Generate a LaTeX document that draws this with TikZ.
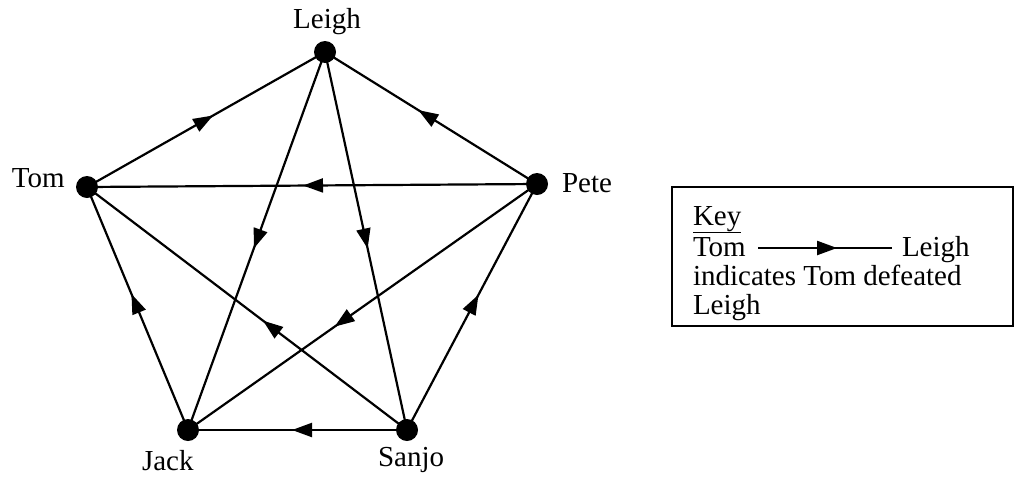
\documentclass[tikz,border=0pt]{standalone}
\usepackage{fontspec}
\setmainfont{Liberation Serif}
\usetikzlibrary{decorations.markings,arrows.meta}
\begin{document}
\begin{tikzpicture}[x=1pt,y=-1pt,
  every node/.style={font=\fontsize{29}{29}\selectfont, inner sep=0pt, outer sep=0pt},
  edge/.style={line width=2.2pt, postaction={decorate},
    decoration={markings, mark=at position #1 with {\arrow{Triangle[length=20pt,width=14pt]}}}},
  dot/.style={circle, fill=black, minimum size=22pt, inner sep=0pt}]
\useasboundingbox (0,0) rectangle (1016,477);
% vertex centres
\coordinate (L) at (325,52);
\coordinate (T) at (87,187);
\coordinate (P) at (537,184);
\coordinate (J) at (188,430);
\coordinate (S) at (407,430);
% edges (winner -> loser)
\draw[edge=0.53] (T) -- (L);
\draw[edge=0.56] (P) -- (L);
\draw[edge=0.52] (P) -- (T);
\draw[edge=0.52] (L) -- (J);
\draw[edge=0.52] (L) -- (S);
\draw[edge=0.56] (J) -- (T);
\draw[edge=0.45] (S) -- (T);
\draw[edge=0.58] (P) -- (J);
\draw[edge=0.525] (S) -- (J);
\draw[edge=0.55] (S) -- (P);
% dots
\node[dot] (dL) at (L) {};
\node[dot] (dT) at (T) {};
\node[dot] (dP) at (P) {};
\node[dot] (dJ) at (J) {};
\node[dot] (dS) at (S) {};
% labels
\node[anchor=base] (lL) at (327,28) {Leigh};
\node[anchor=base west] (lT) at (12,187) {Tom};
\node[anchor=base west] (lP) at (562,192) {Pete};
\node[anchor=base west] (lJ) at (142,470) {Jack};
\node[anchor=base west] (lS) at (378,466) {Sanjo};
% key
\node[draw, line width=1.5pt, minimum width=341pt, minimum height=139pt, anchor=north west] (box) at (672,187) {};
\node[anchor=base west] (k1) at (693,225) {\underline{Key}};
\node[anchor=base west] (k2) at (693,256) {Tom};
\node[anchor=base west] (k3) at (902,256) {Leigh};
\coordinate (ka) at (758,248);
\coordinate (kb) at (892,248);
\draw[edge=0.59] (ka) -- (kb);
\node[anchor=base west] (k4) at (693,285) {indicates Tom defeated};
\node[anchor=base west] (k5) at (693,314) {Leigh};
\end{tikzpicture}
\end{document}
